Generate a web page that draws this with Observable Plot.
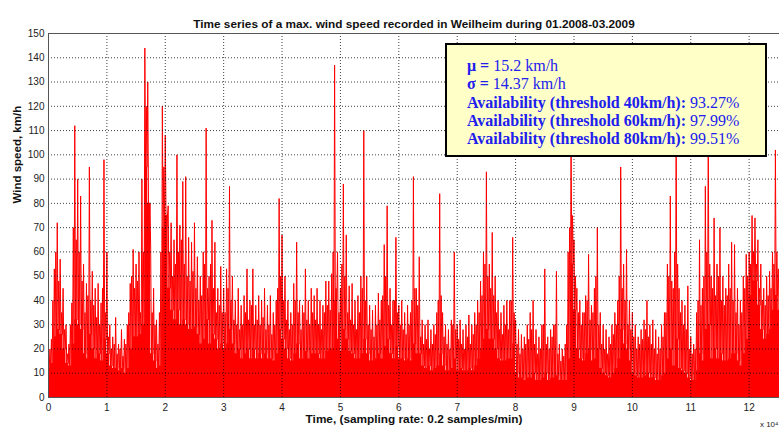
<!DOCTYPE html>
<html><head><meta charset="utf-8">
<script src="https://cdn.jsdelivr.net/npm/d3@7"></script>
<script src="https://cdn.jsdelivr.net/npm/@observablehq/plot@0.6"></script>
<style>
html,body{margin:0;padding:0;background:#fff;overflow:hidden;}
#wrap{position:relative;width:779px;height:430px;overflow:hidden;}
#box{position:absolute;left:445px;top:43px;width:322px;height:114px;box-sizing:border-box;border:2px solid #000;background:#ffffc8;padding:12px 0 0 20px;font-family:"Liberation Serif","Times New Roman",serif;font-size:16px;line-height:18.3px;color:#2020ee;white-space:nowrap;}
#box b{font-weight:bold;}
</style></head><body><div id="wrap"></div>
<script>
const title = "Time series of a max. wind speed recorded in Weilheim during 01.2008-03.2009";
const xLabel = "Time, (sampling rate: 0.2 samples/min)";
const yLabel = "Wind speed, km/h";
const xExponent = "x 10\u2074";
const xTicks = [0,1,2,3,4,5,6,7,8,9,10,11,12];
const yTicks = [0,10,20,30,40,50,60,70,80,90,100,110,120,130,140,150];
const statLabels = ["\u03bc =", "\u03c3 =", "Availability (threshold 40km/h):", "Availability (threshold 60km/h):", "Availability (threshold 80km/h):"];
const statValues = ["15.2 km/h", "14.37 km/h", "93.27%", "97.99%", "99.51%"];
// time step (x 10^4 samples) between read-off points
const step = 0.05;
// max-envelope readings (km/h) per step
const peak = [
 18,24,53,72,57,45,30,22,39,112,90,83,55,47,95,52,45,47,39,98,
 60,30,25,33,22,28,24,30,47,61,55,60,90,144,130,62,45,32,35,120,
 108,79,72,65,100,71,89,91,66,64,72,58,50,60,111,50,73,64,45,54,
 45,53,87,50,40,45,38,42,53,40,53,38,42,40,45,38,42,35,40,82,
 67,50,40,35,47,64,40,38,53,40,45,42,45,40,38,48,48,51,137,60,
 45,88,67,46,47,40,42,50,110,50,38,36,38,43,40,63,79,45,40,66,
 38,40,35,38,35,91,45,58,32,30,32,28,30,35,84,35,30,28,32,60,
 30,32,28,30,34,30,35,40,48,60,93,55,68,50,40,35,38,40,40,66,
 32,28,26,25,30,35,40,28,25,30,53,25,28,30,52,22,20,22,60,110,
 65,45,40,35,42,59,38,45,70,35,30,28,25,30,35,40,95,55,61,40,
 35,30,25,28,32,40,30,32,28,25,30,35,55,83,45,110,45,40,38,46,
 25,22,35,65,45,87,110,50,74,55,70,50,45,55,64,63,45,40,50,59,
 60,75,74,65,55,45,50,52,60,102,53,60
];
// secondary readings (km/h) half a step later
const mid = [
 20,40,60,48,35,28,18,30,70,65,60,48,35,42,40,38,33,30,45,35,
 25,20,22,18,20,17,22,35,50,45,48,35,60,120,70,35,30,22,60,95,
 70,60,50,55,60,65,55,50,48,52,45,40,42,55,45,55,45,35,38,35,
 35,45,40,32,30,28,30,35,32,38,30,32,30,33,28,30,26,30,45,50,
 40,32,28,30,40,35,28,35,32,30,35,32,30,28,35,38,36,60,45,35,
 55,50,35,32,30,28,35,45,40,30,28,25,30,32,42,50,38,30,40,35,
 30,28,26,30,40,45,38,25,22,24,20,22,26,40,42,25,22,20,30,28,
 24,22,20,25,22,26,30,35,42,55,50,45,42,35,28,26,30,28,40,35,
 22,18,20,22,24,28,22,18,20,30,22,20,25,30,18,15,17,30,70,75,
 50,35,30,35,40,32,35,50,30,22,20,18,22,26,30,50,45,40,30,28,
 25,20,22,24,28,25,22,20,18,20,25,35,50,48,60,55,35,30,28,20,
 18,20,40,38,50,60,55,45,42,50,40,38,42,45,40,35,30,35,45,50,
 55,60,55,45,40,38,42,45,55,60,50,48
];
// dense core level (km/h) per step
const core = [
 12,14,25,28,26,20,14,13,22,32,30,28,18,16,26,20,16,18,15,24,
 18,13,12,12,11,12,10,12,20,25,25,26,30,95,80,18,15,12,13,70,
 75,45,36,32,36,30,32,30,28,28,29,26,22,24,32,22,26,24,20,22,
 20,22,28,22,18,20,16,18,20,16,20,16,18,16,18,16,16,15,18,28,
 24,20,16,15,18,22,16,16,19,16,18,18,18,16,16,19,20,20,40,24,
 19,28,24,19,18,16,16,18,24,18,15,15,16,18,16,21,24,18,16,21,
 16,16,15,16,15,22,18,18,13,12,13,11,12,13,18,13,11,11,12,16,
 11,12,11,11,12,11,13,16,20,24,28,24,24,20,16,15,15,16,16,22,
 10,8,8,7,8,8,10,7,7,8,10,7,8,8,9,7,7,7,16,55,
 36,20,16,15,18,20,15,16,20,12,10,9,8,10,12,16,28,22,20,15,
 10,9,8,8,9,10,8,8,7,7,9,10,16,20,13,24,12,11,10,8,
 7,7,11,18,15,28,30,16,20,16,18,15,15,16,18,18,15,13,18,24,
 42,48,48,38,28,24,26,28,36,42,36,36
];

const coreData = core.map((v, k) => ({t: k * step, v}));
const lineData = peak.flatMap((v, k) => [
  {t: k * step, v},
  {t: k * step + step / 4, v: core[k]},
  {t: k * step + step / 2, v: mid[k]},
  {t: k * step + 3 * step / 4, v: core[k]}
]);

const grid = {stroke: "#000", strokeOpacity: 0.75, strokeDasharray: "1,2", strokeWidth: 1};

const chart = Plot.plot({
  width: 779, height: 430,
  marginLeft: 48, marginRight: 0, marginTop: 33, marginBottom: 33,
  x: {domain: [0, 12.52]},
  y: {domain: [0, 150]},
  style: {fontFamily: "'Liberation Sans', Arial, sans-serif", fontSize: "10px", color: "#222", background: "#fff", overflow: "visible"},
  marks: [
    Plot.areaY(coreData, {x: "t", y: "v", fill: "#ff0000", curve: "step-after", clip: true}),
    Plot.lineY(lineData, {x: "t", y: "v", stroke: "#ff0000", strokeWidth: 1, clip: true}),
    Plot.gridX(xTicks.slice(1), grid),
    Plot.gridY(yTicks.slice(1, -1), grid),
    Plot.ruleY([0, 150], {stroke: "#555"}),
    Plot.ruleX([0], {stroke: "#555"}),
    Plot.axisX(xTicks, {tickSize: 0, tickPadding: 6, label: null, tickFormat: d => String(d)}),
    Plot.axisY(yTicks, {tickSize: 0, tickPadding: 4, label: null, tickFormat: d => String(d)}),
    Plot.text([title], {text: d => d, frameAnchor: "top", dy: -14, fontWeight: "bold", fontSize: 11.8, fill: "#111"}),
    Plot.text([yLabel], {text: d => d, frameAnchor: "left", dx: -31, dy: -12, rotate: -90, fontWeight: "bold", fontSize: 11.5, fill: "#111"}),
    Plot.text([xLabel], {text: d => d, frameAnchor: "bottom", dy: 25, fontWeight: "bold", fontSize: 11.8, fill: "#111"}),
    Plot.text([xExponent], {text: d => d, frameAnchor: "bottom-right", dx: -1, dy: 29, textAnchor: "end", fontSize: 8, fill: "#222"})
  ]
});

const wrap = document.getElementById("wrap");
wrap.appendChild(chart);
const box = document.createElement("div");
box.id = "box";
box.innerHTML = statLabels.map((l, i) => `<div><b>${l}</b> ${statValues[i]}</div>`).join("");
wrap.appendChild(box);
</script>
</body></html>
